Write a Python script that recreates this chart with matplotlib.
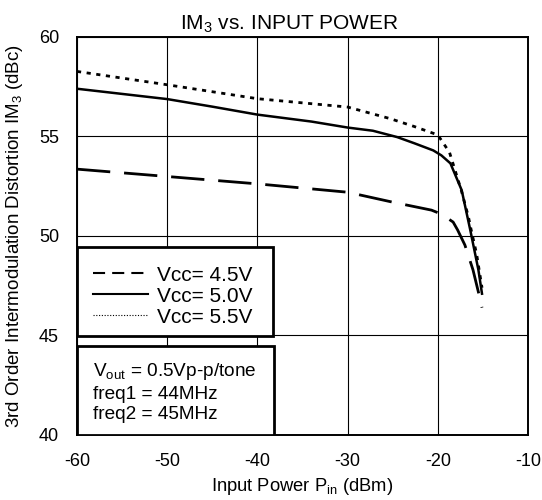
import numpy as np
import matplotlib.pyplot as plt
from matplotlib.patches import Rectangle
from matplotlib.lines import Line2D

plt.rcParams['font.family'] = ['Liberation Sans', 'DejaVu Sans']
plt.rcParams['mathtext.fontset'] = 'custom'
plt.rcParams['mathtext.rm'] = 'Liberation Sans'
plt.rcParams['mathtext.it'] = 'Liberation Sans'
plt.rcParams['axes.unicode_minus'] = False

# data (input power in dBm, IM3 in dBc)
pin_45 = [-60, -50, -40, -30, -25, -20.7, -19.6, -18.3, -17.8, -17.0, -16.6, -16.1, -15.4, -15.1]
im3_45 = [53.36, 52.99, 52.62, 52.2, 51.7, 51.3, 51.1, 50.7, 50.3, 49.55, 49.0, 48.3, 47.0, 46.4]

pin_50 = [-60, -50, -45, -40, -34, -30, -27.2, -24.5, -22.6, -20.5, -19.6, -18.6, -17.35, -16.4, -15.5, -15.1]
im3_50 = [57.4, 56.88, 56.5, 56.1, 55.75, 55.45, 55.29, 54.97, 54.66, 54.3, 54.05, 53.65, 52.3, 50.3, 48.3, 47.1]

pin_55 = [-60, -50, -40, -30, -25.3, -22.6, -20, -18.7, -17.4, -16.6, -16.25, -15.7, -15.1]
im3_55 = [58.27, 57.6, 56.9, 56.48, 55.9, 55.5, 55.08, 54.2, 52.3, 50.95, 50.2, 49.1, 47.4]

labels = ["Vcc= 4.5V", "Vcc= 5.0V", "Vcc= 5.5V"]
note = "V$_{\\rm out}$ = 0.5Vp-p/tone\nfreq1 = 44MHz\nfreq2 = 45MHz"

fig = plt.figure(figsize=(5.42, 5.0), dpi=100)
ax = fig.add_axes([77 / 542, 65 / 500, 451 / 542, 398 / 500])

ax.plot(pin_45, im3_45, color="black", lw=2, linestyle=(0, (12, 5)))
ax.plot(pin_50, im3_50, color="black", lw=1.8)
ax.plot(pin_55, im3_55, color="black", lw=2, linestyle=(0, (1.5, 2)))

ax.set_xlim(-60, -10)
ax.set_ylim(40, 60)
ax.set_xticks(np.arange(-60, -9, 10))
ax.set_yticks(np.arange(40, 61, 5))
ax.grid(True, color="black", lw=0.8)
ax.tick_params(length=0, labelsize=13)
ax.tick_params(axis="x", pad=13)
ax.tick_params(axis="y", pad=13)
for s in ax.spines.values():
    s.set_linewidth(1.4)

ax.set_title("IM$_3$ vs. INPUT POWER", fontsize=15, x=0.471, pad=5)
ax.set_xlabel("Input Power P$_{\\rm in}$ (dBm)", fontsize=13.2, labelpad=4)
ax.set_ylabel("3rd Order Intermodulation Distortion IM$_3$ (dBc)", fontsize=13.5)
ax.yaxis.set_label_coords(-0.115, 0.5)

# legend box
ax.add_patch(Rectangle((0, 0.2475), 0.434, 0.225, transform=ax.transAxes,
                       facecolor="white", edgecolor="black", lw=2, zorder=5))
handles = [Line2D([], [], color="black", lw=1.5, linestyle=(0, (5.8, 3.4))),
           Line2D([], [], color="black", lw=1.5),
           Line2D([], [], color="black", lw=0.8, linestyle=(0, (1, 1.5)))]
leg = ax.legend(handles, labels, loc="center left", bbox_to_anchor=(0.0355, 0.349),
                frameon=False, fontsize=15, handlelength=2.65, handletextpad=0.43,
                labelspacing=0.1, borderpad=0, borderaxespad=0)
leg.set_zorder(6)

# note box
ax.add_patch(Rectangle((0, 0), 0.436, 0.2235, transform=ax.transAxes,
                       facecolor="white", edgecolor="black", lw=2, zorder=5))
ax.text(0.036, 0.108, note, transform=ax.transAxes, fontsize=13.7,
        va="center", ha="left", linespacing=1.25, zorder=6)

fig.savefig("out.png", dpi=100)
